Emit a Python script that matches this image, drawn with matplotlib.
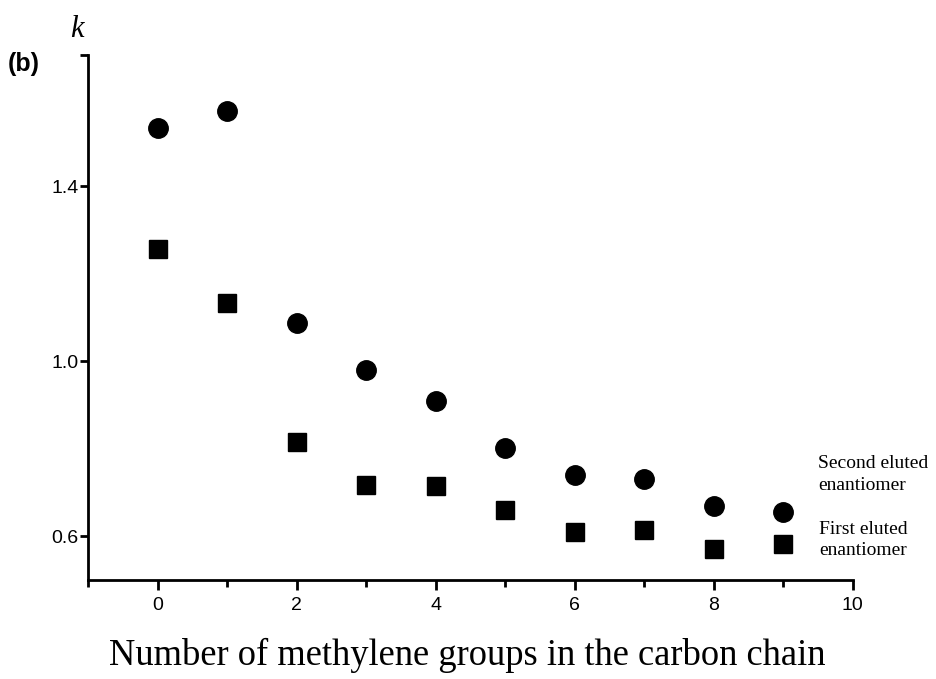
import numpy as np
import matplotlib.pyplot as plt

# number of methylene groups
groups = [0, 1, 2, 3, 4, 5, 6, 7, 8, 9]
# retention factor k
k_second = [1.533, 1.571, 1.087, 0.979, 0.909, 0.801, 0.739, 0.730, 0.669, 0.655]
k_first = [1.256, 1.133, 0.815, 0.717, 0.714, 0.659, 0.609, 0.614, 0.570, 0.582]

xticks = [0, 2, 4, 6, 8, 10]
yticks = [0.6, 1.0, 1.4]

fig = plt.figure(figsize=(9.36, 6.79), dpi=100)
ax = fig.add_axes([0.094, 0.146, 0.817, 0.773])

ax.plot(groups, k_second, 'o', color='black', markersize=14, clip_on=False)
ax.plot(groups, k_first, 's', color='black', markersize=12.5, clip_on=False)

ax.set_xlim(-1, 10)
ax.set_ylim(0.5, 1.7)
ax.set_xticks(xticks)
ax.set_xticks([-1, 1, 3, 5, 7, 9], minor=True)
ax.set_yticks(yticks + [1.7])
ax.set_yticklabels(['0.6', '1.0', '1.4', ''])

for s in ['top', 'right']:
    ax.spines[s].set_visible(False)
for s in ['left', 'bottom']:
    ax.spines[s].set_linewidth(2)

ax.tick_params(axis='both', which='both', direction='out', width=2,
               labelsize=14, colors='black')
ax.tick_params(axis='x', which='major', length=7, pad=5)
ax.tick_params(axis='x', which='minor', length=5)
ax.tick_params(axis='y', which='major', length=6, pad=1)
for lab in ax.get_xticklabels() + ax.get_yticklabels():
    lab.set_family('Liberation Sans')

fig.text(0.4995, 0.02, 'Number of methylene groups in the carbon chain',
         family='Liberation Serif', fontsize=26.3, ha='center', va='baseline')

fig.text(0.0748, 0.9455, 'k', family='Liberation Serif', style='italic', fontsize=22,
         ha='left', va='baseline')
fig.text(0.0085, 0.9057, '(b)', family='Liberation Sans', weight='bold', fontsize=18,
         ha='left', va='center')

note_font = dict(family='Liberation Serif', fontsize=14, ha='left', va='baseline')
ax.text(9.50, 0.756, 'Second eluted', **note_font)
ax.text(9.50, 0.706, 'enantiomer', **note_font)
ax.text(9.52, 0.605, 'First eluted', **note_font)
ax.text(9.52, 0.557, 'enantiomer', **note_font)

fig.savefig('out.png', dpi=100)
